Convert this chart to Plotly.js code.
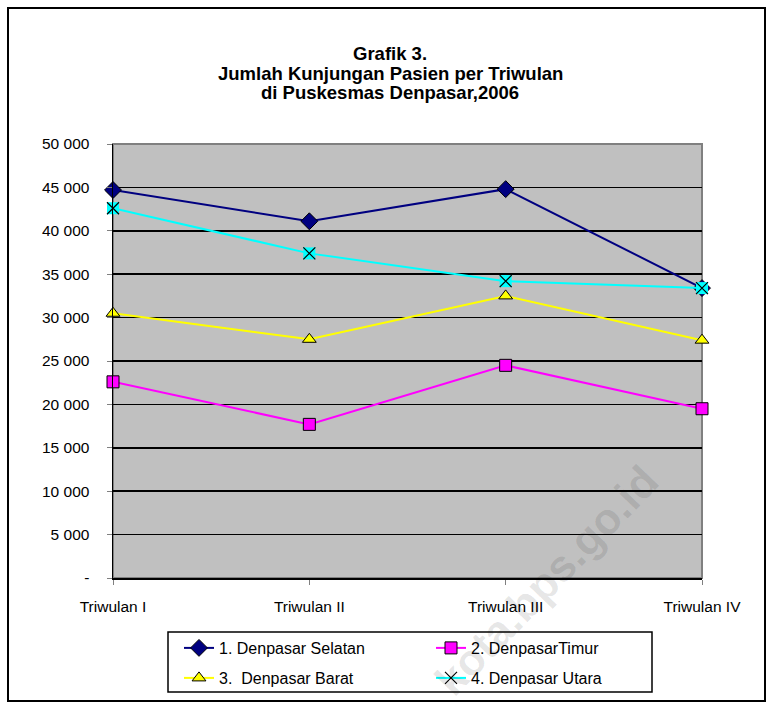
<!DOCTYPE html>
<html><head><meta charset="utf-8">
<script src="https://cdn.plot.ly/plotly-3.0.1.min.js"></script>
<style>html,body{margin:0;padding:0;background:#fff;}#chart{width:772px;height:709px;}</style>
</head><body><div id="chart"></div>
<script>
// ---- data ----
const categories = ['Triwulan I', 'Triwulan II', 'Triwulan III', 'Triwulan IV'];
const selatan = [44700, 41100, 44800, 33400];
const timur   = [22600, 17700, 24500, 19500];
const barat   = [30500, 27500, 32500, 27400];
const utara   = [42600, 37400, 34200, 33400];
const seriesNames = ['1. Denpasar Selatan', '2. DenpasarTimur', '3.\u00a0 Denpasar Barat', '4. Denpasar Utara'];
const yTickVals = [0, 5000, 10000, 15000, 20000, 25000, 30000, 35000, 40000, 45000, 50000];
const yTickText = ['-', '5 000', '10 000', '15 000', '20 000', '25 000', '30 000', '35 000', '40 000', '45 000', '50 000'];
const titleLines = ['Grafik 3.', 'Jumlah Kunjungan Pasien per Triwulan', 'di Puskesmas Denpasar,2006'];
const watermark = 'kota.bps.go.id';

// ---- geometry ----
const W = 772, H = 709;
const M = {l: 113, r: 70, t: 144, b: 131};
const PW = W - M.l - M.r, PH = H - M.t - M.b;
const px = x => (x - M.l) / PW;
const py = y => (H - M.b - y) / PH;
const FONT = 'Arial, "Liberation Sans", sans-serif';

const traces = [
  {x: categories, y: selatan, name: seriesNames[0], type: 'scatter', mode: 'lines+markers', legend: 'legend', cliponaxis: false,
   line: {color: '#000080', width: 2},
   marker: {symbol: 'diamond', size: 13, color: '#000080', line: {color: '#000000', width: 1}}},
  {x: categories, y: timur, name: seriesNames[1], type: 'scatter', mode: 'lines+markers', legend: 'legend', cliponaxis: false,
   line: {color: '#ff00ff', width: 2},
   marker: {symbol: 'square', size: 12, color: '#ff00ff', line: {color: '#000000', width: 1}}},
  {x: categories, y: barat, name: seriesNames[2], type: 'scatter', mode: 'lines+markers', legend: 'legend2', cliponaxis: false,
   line: {color: '#ffff00', width: 2},
   marker: {symbol: 'triangle-up', size: 12, color: '#ffff00', line: {color: '#000000', width: 1}}},
  {x: categories, y: utara, name: seriesNames[3], type: 'scatter', mode: 'markers', showlegend: false, cliponaxis: false,
   marker: {symbol: 'square', size: 12, color: '#00ffff', line: {width: 0}}},
  {x: categories, y: utara, name: seriesNames[3], type: 'scatter', mode: 'lines+markers', legend: 'legend2', cliponaxis: false,
   line: {color: '#00ffff', width: 2},
   marker: {symbol: 'x-thin', size: 12, color: '#000000', line: {color: '#000000', width: 1.2}}}
];

const legendCommon = {
  orientation: 'h', xanchor: 'left', yanchor: 'middle', x: px(179),
  entrywidth: 207, entrywidthmode: 'pixels',
  bgcolor: 'rgba(0,0,0,0)', borderwidth: 0,
  font: {family: FONT, size: 16, color: '#000'}, itemclick: false
};

const titleY = [54, 73, 92];
const titleAnns = titleLines.map((t, i) => ({
  text: '<b>' + t + '</b>', xref: 'paper', yref: 'paper', x: px(390), y: py(titleY[i]),
  xanchor: 'center', yanchor: 'middle', showarrow: false,
  font: {family: FONT, size: 18.5, color: '#000'}
}));

const layout = {
  width: W, height: H,
  margin: M,
  paper_bgcolor: '#ffffff', plot_bgcolor: '#c0c0c0',
  font: {family: FONT, color: '#000'},
  showlegend: true,
  xaxis: {type: 'category', range: [0, 3], showgrid: false, zeroline: false,
          showline: true, linecolor: '#000', linewidth: 1.5,
          ticks: 'outside', ticklen: 5, tickcolor: '#808080', tickwidth: 1,
          ticklabelstandoff: 9,
          tickfont: {family: FONT, size: 15.5, color: '#000'}},
  yaxis: {range: [0, 50000], tickmode: 'array', tickvals: yTickVals, ticktext: yTickText,
          showgrid: true, gridcolor: '#000', gridwidth: 1.5, zeroline: false,
          showline: true, linecolor: '#000', linewidth: 1.5,
          ticks: 'outside', ticklen: 5, tickcolor: '#808080', tickwidth: 1,
          ticklabelstandoff: 14,
          tickfont: {family: FONT, size: 15.5, color: '#000'}},
  legend: Object.assign({}, legendCommon, {y: py(648)}),
  legend2: Object.assign({}, legendCommon, {y: py(678)}),
  shapes: [
    {type: 'rect', xref: 'paper', yref: 'paper', x0: 0, x1: 1, y0: 0, y1: 1, layer: 'between',
     line: {color: '#808080', width: 2}},
    {type: 'rect', xref: 'paper', yref: 'paper', x0: px(168), x1: px(652), y0: py(692), y1: py(632),
     line: {color: '#000', width: 1.5}, fillcolor: 'rgba(0,0,0,0)'},
    {type: 'rect', xref: 'paper', yref: 'paper', x0: px(8), x1: px(765), y0: py(701), y1: py(8),
     line: {color: '#000', width: 2}, fillcolor: 'rgba(0,0,0,0)'}
  ],
  annotations: titleAnns.concat([
    {text: '<b>' + watermark + '</b>', xref: 'paper', yref: 'paper', x: px(546), y: py(580),
     xanchor: 'center', yanchor: 'middle', showarrow: false,
     textangle: -46, font: {family: FONT, size: 44, color: 'rgba(0,0,0,0.1)'}}
  ])
};

Plotly.newPlot('chart', traces, layout, {displayModeBar: false, staticPlot: true});
</script>
</body></html>
